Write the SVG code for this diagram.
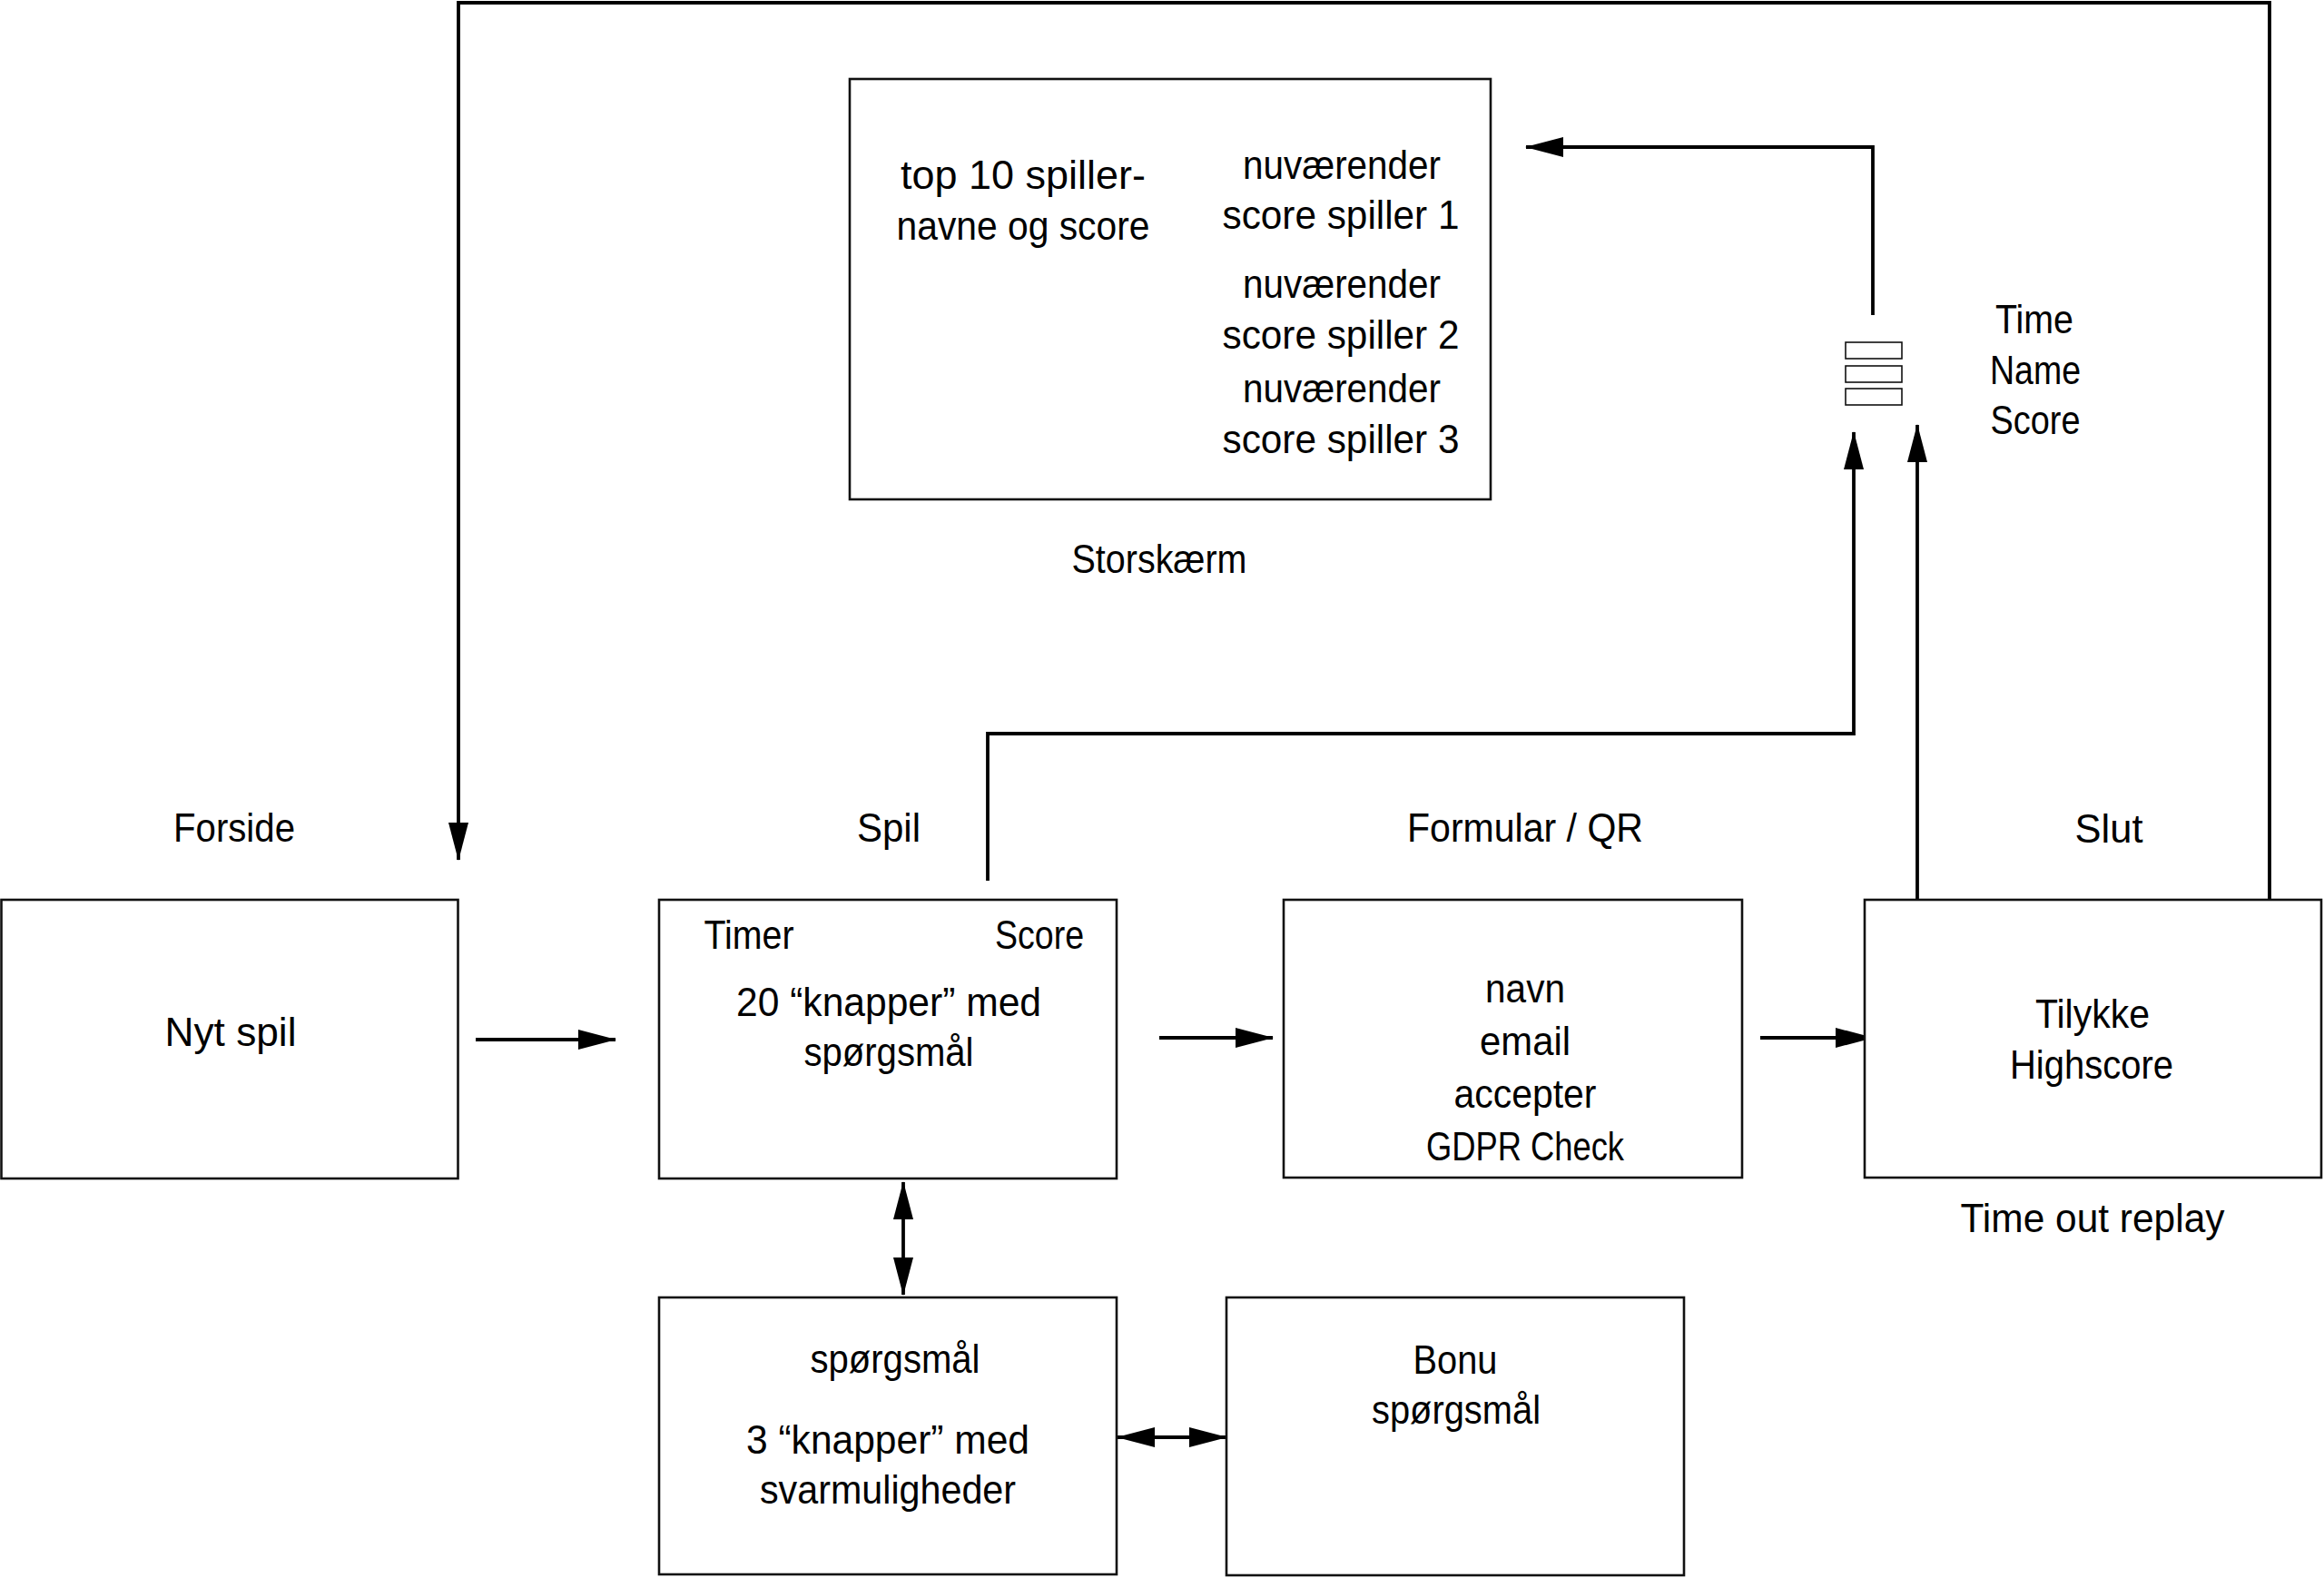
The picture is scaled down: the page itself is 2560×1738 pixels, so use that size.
<svg xmlns="http://www.w3.org/2000/svg" width="2560" height="1738" viewBox="0 0 2560 1738">
<style>
  .box { fill: #fff; stroke: #111; stroke-width: 2.6; }
  .small { fill: #fff; stroke: #111; stroke-width: 1.6; }
  .t { font-family: "Liberation Sans", "DejaVu Sans", sans-serif; font-size: 45px; fill: #000; text-anchor: middle; }
  .c { fill: none; stroke: #000; stroke-width: 3.8; }
</style>
<defs>
  <marker id="ah" markerUnits="userSpaceOnUse" markerWidth="42" markerHeight="22" refX="41" refY="11" orient="auto-start-reverse">
    <path d="M0,0 L42,11 L0,22 z" fill="#000"/>
  </marker>
</defs>
<rect width="2560" height="1738" fill="#fff"/>

<g id="connectors">
  <polyline class="c" points="2500,991 2500,3 505,3 505,947" marker-end="url(#ah)"/>
  <polyline class="c" points="1088,970 1088,808 2042,808 2042,476" marker-end="url(#ah)"/>
  <line class="c" x1="2112" y1="991" x2="2112" y2="468" marker-end="url(#ah)"/>
  <polyline class="c" points="2063,347 2063,162 1681,162" marker-end="url(#ah)"/>
  <line class="c" x1="524" y1="1145" x2="678" y2="1145" marker-end="url(#ah)"/>
  <line class="c" x1="1277" y1="1143" x2="1402" y2="1143" marker-end="url(#ah)"/>
  <line class="c" x1="1939" y1="1143" x2="2063" y2="1143" marker-end="url(#ah)"/>
  <line class="c" x1="995" y1="1302" x2="995" y2="1426" marker-start="url(#ah)" marker-end="url(#ah)"/>
  <line class="c" x1="1231" y1="1583" x2="1351" y2="1583" marker-start="url(#ah)" marker-end="url(#ah)"/>
</g>

<g id="storskaerm">
  <rect class="box" x="936" y="87" width="706" height="463"/>
  <text class="t" x="1127" y="208" textLength="270" lengthAdjust="spacingAndGlyphs">top 10 spiller-</text>
  <text class="t" x="1127" y="264" textLength="279" lengthAdjust="spacingAndGlyphs">navne og score</text>
  <text class="t" x="1478" y="197" textLength="218" lengthAdjust="spacingAndGlyphs">nuværender</text>
  <text class="t" x="1477" y="252" textLength="261" lengthAdjust="spacingAndGlyphs">score spiller 1</text>
  <text class="t" x="1478" y="328" textLength="218" lengthAdjust="spacingAndGlyphs">nuværender</text>
  <text class="t" x="1477" y="384" textLength="261" lengthAdjust="spacingAndGlyphs">score spiller 2</text>
  <text class="t" x="1478" y="443" textLength="218" lengthAdjust="spacingAndGlyphs">nuværender</text>
  <text class="t" x="1477" y="499" textLength="261" lengthAdjust="spacingAndGlyphs">score spiller 3</text>
  <text class="t" x="1277" y="631" textLength="193" lengthAdjust="spacingAndGlyphs">Storskærm</text>
</g>

<g id="datarecord">
  <rect class="small" x="2033" y="377" width="62" height="18"/>
  <rect class="small" x="2033" y="403" width="62" height="18"/>
  <rect class="small" x="2033" y="428" width="62" height="18"/>
  <text class="t" x="2241" y="367" textLength="86" lengthAdjust="spacingAndGlyphs">Time</text>
  <text class="t" x="2242" y="423" textLength="100" lengthAdjust="spacingAndGlyphs">Name</text>
  <text class="t" x="2242" y="478" textLength="99" lengthAdjust="spacingAndGlyphs">Score</text>
</g>

<g id="forside">
  <text class="t" x="258" y="927" textLength="134" lengthAdjust="spacingAndGlyphs">Forside</text>
  <rect class="box" x="1.5" y="991" width="503" height="307"/>
  <text class="t" x="254" y="1152" textLength="145" lengthAdjust="spacingAndGlyphs">Nyt spil</text>
</g>

<g id="spil">
  <text class="t" x="979" y="927" textLength="70" lengthAdjust="spacingAndGlyphs">Spil</text>
  <rect class="box" x="726" y="991" width="504" height="307"/>
  <text class="t" x="825" y="1045" textLength="99" lengthAdjust="spacingAndGlyphs">Timer</text>
  <text class="t" x="1145" y="1045" textLength="98" lengthAdjust="spacingAndGlyphs">Score</text>
  <text class="t" x="979" y="1119" textLength="336" lengthAdjust="spacingAndGlyphs">20 “knapper” med</text>
  <text class="t" x="979" y="1174" textLength="187" lengthAdjust="spacingAndGlyphs">spørgsmål</text>
</g>

<g id="formular">
  <text class="t" x="1680" y="927" textLength="260" lengthAdjust="spacingAndGlyphs">Formular / QR</text>
  <rect class="box" x="1414" y="991" width="505" height="306"/>
  <text class="t" x="1680" y="1104" textLength="88" lengthAdjust="spacingAndGlyphs">navn</text>
  <text class="t" x="1680" y="1162" textLength="100" lengthAdjust="spacingAndGlyphs">email</text>
  <text class="t" x="1680" y="1220" textLength="157" lengthAdjust="spacingAndGlyphs">accepter</text>
  <text class="t" x="1680" y="1278" textLength="218" lengthAdjust="spacingAndGlyphs">GDPR Check</text>
</g>

<g id="slut">
  <text class="t" x="2323" y="928" textLength="75" lengthAdjust="spacingAndGlyphs">Slut</text>
  <rect class="box" x="2054" y="991" width="503" height="306"/>
  <text class="t" x="2305" y="1132" textLength="126" lengthAdjust="spacingAndGlyphs">Tilykke</text>
  <text class="t" x="2304" y="1188" textLength="180" lengthAdjust="spacingAndGlyphs">Highscore</text>
  <text class="t" x="2305" y="1357" textLength="291" lengthAdjust="spacingAndGlyphs">Time out replay</text>
</g>

<g id="spoergsmaal">
  <rect class="box" x="726" y="1429" width="504" height="305"/>
  <text class="t" x="986" y="1512" textLength="187" lengthAdjust="spacingAndGlyphs">spørgsmål</text>
  <text class="t" x="978" y="1601" textLength="312" lengthAdjust="spacingAndGlyphs">3 “knapper” med</text>
  <text class="t" x="978" y="1656" textLength="282" lengthAdjust="spacingAndGlyphs">svarmuligheder</text>
</g>

<g id="bonus">
  <rect class="box" x="1351" y="1429" width="504" height="306"/>
  <text class="t" x="1603" y="1513" textLength="93" lengthAdjust="spacingAndGlyphs">Bonu</text>
  <text class="t" x="1604" y="1568" textLength="186" lengthAdjust="spacingAndGlyphs">spørgsmål</text>
</g>
</svg>
